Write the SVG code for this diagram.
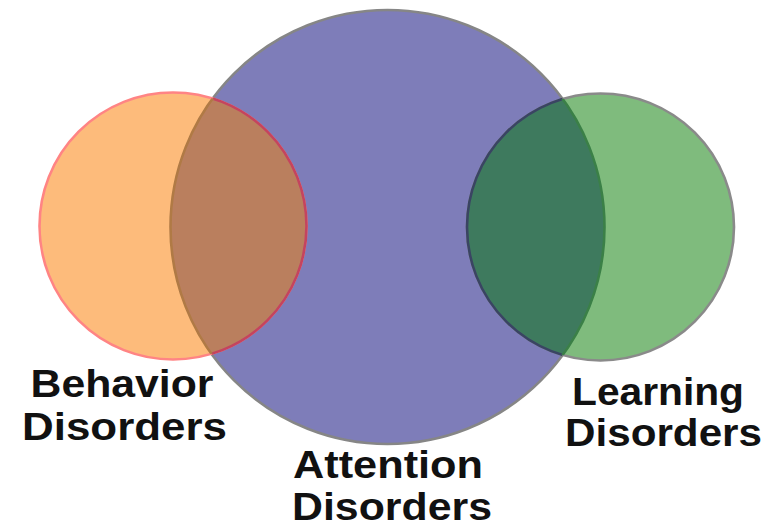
<svg xmlns="http://www.w3.org/2000/svg" width="780" height="526" viewBox="0 0 780 526">
  <style>
    .label { font-family: "Liberation Sans", Arial, sans-serif; font-weight: bold; font-size: 38px; fill: #111; text-anchor: middle; }
    .ring { stroke-width: 2.6; }
  </style>
  <defs>
    <clipPath id="inAttention"><circle cx="387.5" cy="227" r="217"/></clipPath>
    <clipPath id="inBehavior"><circle cx="173" cy="226" r="133.5"/></clipPath>
    <clipPath id="inLearning"><circle cx="600.5" cy="227" r="133.5"/></clipPath>
  </defs>

  <rect width="780" height="526" fill="#ffffff"/>

  <!-- Attention disorders: large centre set -->
  <g id="attention">
    <circle cx="387.5" cy="227" r="217" fill="#7E7DB9" stroke="#868686" class="ring"/>
    <text class="label" x="388" y="478" textLength="190" lengthAdjust="spacingAndGlyphs">Attention</text>
    <text class="label" x="392" y="520" textLength="200" lengthAdjust="spacingAndGlyphs">Disorders</text>
  </g>

  <!-- Behavior disorders: left set -->
  <g id="behavior">
    <circle cx="173" cy="226" r="133.5" fill="#FDBB7B" stroke="#FF8484" class="ring"/>
    <text class="label" x="122" y="397" textLength="183" lengthAdjust="spacingAndGlyphs">Behavior</text>
    <text class="label" x="124.5" y="440" textLength="205" lengthAdjust="spacingAndGlyphs">Disorders</text>
  </g>

  <!-- Learning disorders: right set -->
  <g id="learning">
    <circle cx="600.5" cy="227" r="133.5" fill="#7FBB7D" stroke="#8A8A8A" class="ring"/>
    <text class="label" x="658" y="405" textLength="172" lengthAdjust="spacingAndGlyphs">Learning</text>
    <text class="label" x="663.5" y="446" textLength="197" lengthAdjust="spacingAndGlyphs">Disorders</text>
  </g>

  <!-- Intersections of the side sets with the centre set -->
  <g id="overlaps">
    <g clip-path="url(#inAttention)">
      <circle cx="173" cy="226" r="133.5" fill="#BA7F5E" stroke="#C4445F" class="ring"/>
      <circle cx="600.5" cy="227" r="133.5" fill="#3E7A5E" stroke="#3A4463" class="ring"/>
    </g>
    <circle cx="387.5" cy="227" r="217" fill="none" stroke="#B07A45" class="ring" clip-path="url(#inBehavior)"/>
    <circle cx="387.5" cy="227" r="217" fill="none" stroke="#3B8047" class="ring" clip-path="url(#inLearning)"/>
  </g>
</svg>
